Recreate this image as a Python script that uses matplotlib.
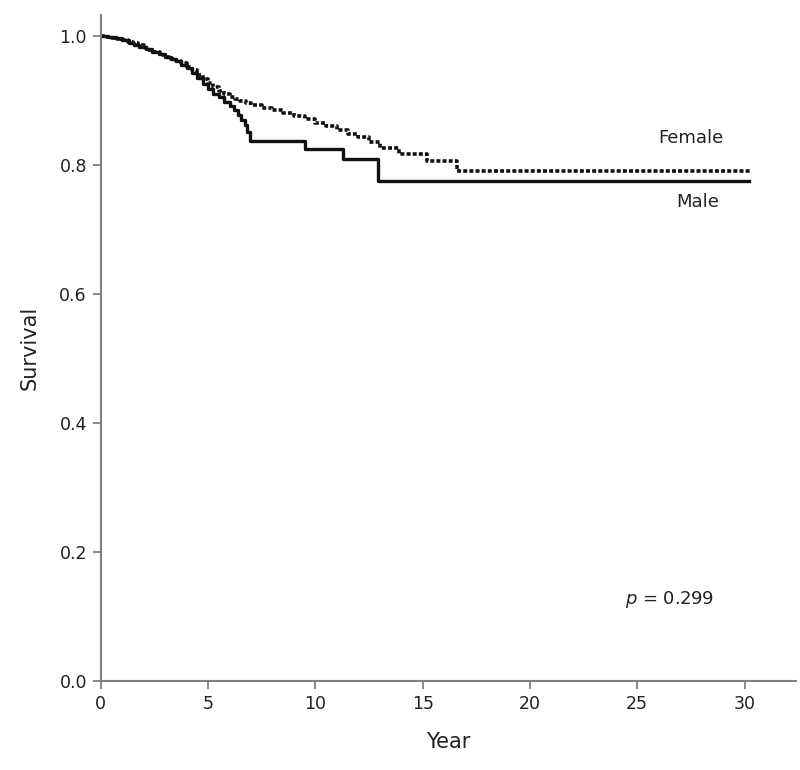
import matplotlib
matplotlib.use('Agg')
import matplotlib.pyplot as plt

# Kaplan-Meier step data
female_years = [0, 0.25, 0.5, 0.75, 1.0, 1.25, 1.5, 1.75, 2.0, 2.25, 2.5, 2.75,
                3.0, 3.25, 3.5, 3.75, 4.0, 4.25, 4.5, 4.75, 5.0, 5.25, 5.5,
                5.75, 6.0, 6.25, 6.5, 6.75, 7.0, 7.5, 8.0, 8.5, 9.0, 9.5, 10.0,
                10.5, 11.0, 11.5, 12.0, 12.5, 13.0, 13.9, 15.2, 16.6, 30.3]
female_surv = [1.0, 0.999, 0.998, 0.996, 0.994, 0.991, 0.989, 0.986, 0.982,
               0.979, 0.975, 0.971, 0.968, 0.965, 0.962, 0.958, 0.953, 0.947,
               0.940, 0.934, 0.928, 0.921, 0.915, 0.910, 0.906, 0.902, 0.899,
               0.896, 0.893, 0.889, 0.885, 0.881, 0.877, 0.871, 0.866, 0.861,
               0.855, 0.849, 0.843, 0.836, 0.826, 0.818, 0.806, 0.791, 0.791]

male_years = [0, 0.35, 0.7, 1.0, 1.3, 1.55, 1.8, 2.1, 2.4, 2.7, 3.0, 3.25, 3.5,
              3.75, 4.0, 4.25, 4.5, 4.75, 5.0, 5.25, 5.5, 5.75, 6.0, 6.2, 6.4,
              6.55, 6.7, 6.82, 6.94, 9.5, 11.3, 12.9, 30.2]
male_surv = [1.0, 0.999, 0.997, 0.994, 0.990, 0.987, 0.984, 0.980, 0.976,
             0.972, 0.968, 0.965, 0.961, 0.956, 0.950, 0.943, 0.935, 0.926,
             0.918, 0.911, 0.905, 0.898, 0.892, 0.885, 0.878, 0.870, 0.862,
             0.852, 0.838, 0.825, 0.809, 0.776, 0.776]

x_ticks = [0, 5, 10, 15, 20, 25, 30]
y_ticks = [0.0, 0.2, 0.4, 0.6, 0.8, 1.0]

fig = plt.figure(figsize=(8, 7.7), dpi=100)
ax = fig.add_axes([0.126, 0.1156, 0.869, 0.865])

ax.step(female_years, female_surv, where='post', color='#111111',
        linewidth=2.6, linestyle=(0, (1.1, 0.6)))
ax.step(male_years, male_surv, where='post', color='#111111', linewidth=2.4)

ax.set_xlim(0, 32.4)
ax.set_ylim(0, 1.033)
ax.set_xticks(x_ticks)
ax.set_yticks(y_ticks)
ax.set_yticklabels(['%.1f' % v for v in y_ticks])

for s in ['top', 'right']:
    ax.spines[s].set_visible(False)
for s in ['left', 'bottom']:
    ax.spines[s].set_color('#808080')
    ax.spines[s].set_linewidth(1.5)
ax.tick_params(direction='out', length=6, width=1.3, color='#808080',
               labelsize=12.5, labelcolor='#222222', pad=4)

ax.set_xlabel('Year', fontsize=15, color='#222222', labelpad=14)
ax.set_ylabel('Survival', fontsize=15, color='#222222', labelpad=14)

ax.text(27.5, 0.835, 'Female', fontsize=13, color='#222222', ha='center')
ax.text(27.8, 0.735, 'Male', fontsize=13, color='#222222', ha='center')
ax.text(26.5, 0.12, '$p$ = 0.299', fontsize=13, color='#222222', ha='center')

fig.savefig('out.png', dpi=100)
